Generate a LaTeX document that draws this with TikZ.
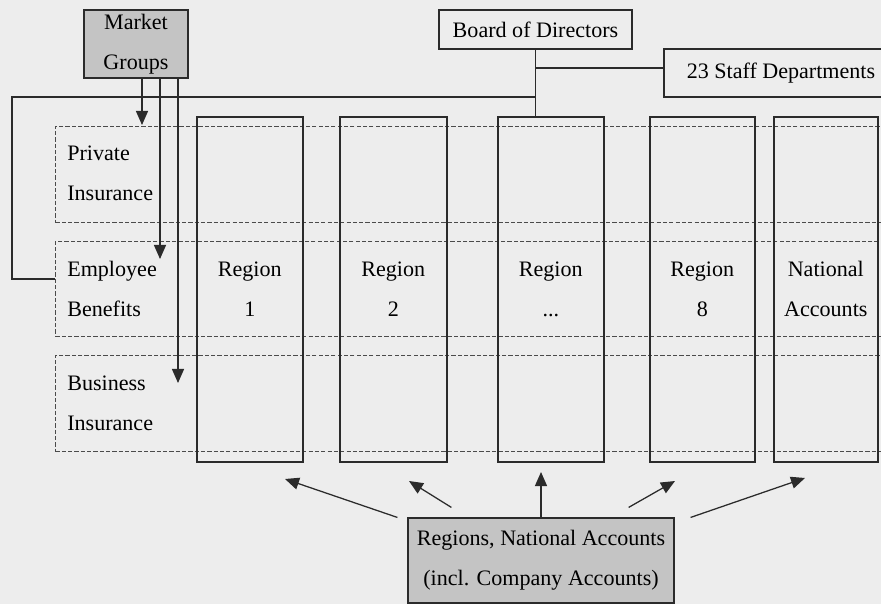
\documentclass[tikz,border=0pt]{standalone}
\usepackage{fontspec}
\setmainfont{Liberation Serif}
\usetikzlibrary{positioning, arrows.meta, calc}
\definecolor{paper}{HTML}{EDEDED}
\definecolor{ink}{HTML}{2B2B2B}
\definecolor{shade}{HTML}{C4C4C4}

\begin{document}
\begin{tikzpicture}[x=0.025cm, y=-0.025cm, font=\fontsize{15.7}{28.5}\selectfont,
  box/.style={rectangle, draw=ink, line width=0.8pt, inner sep=0pt, align=center},
  grey/.style={box, fill=shade},
  rowbox/.style={rectangle, draw=ink!85, line width=0.6pt, dash pattern=on 3pt off 1.5pt,
                 inner sep=0pt, minimum width=20.725cm, anchor=north west},
  col/.style={rectangle, draw=ink, line width=1.1pt, inner sep=0pt, minimum height=8.625cm,
              anchor=north west, align=center},
  lbl/.style={anchor=west, align=left, inner sep=0pt},
  link/.style={draw=ink, line width=0.9pt},
  push/.style={link, -{Triangle[length=3.5mm, width=3mm]}}]
  \fill[paper] (0,0) rectangle (881,604);
  \useasboundingbox (0,0) rectangle (881,604);

  \node[rowbox, minimum height=2.4cm] (priv) at (55,126) {};
  \node[rowbox, minimum height=2.375cm] (emp) at (55,241) {};
  \node[rowbox, minimum height=2.4cm] (bus) at (55,355) {};

  \node[lbl] (tpriv) at (67,173.5) {Private\\Insurance};
  \node[lbl] (temp) at (67,288.5) {Employee\\Benefits};
  \node[lbl] (tbus) at (67,403.5) {Business\\Insurance};

  \node[col, minimum width=2.65cm] (reg1) at (196,116) {Region\\1};
  \node[col, minimum width=2.675cm] (reg2) at (339,116) {Region\\2};
  \node[col, minimum width=2.65cm] (reg3) at (497,116) {Region\\...};
  \node[col, minimum width=2.625cm] (reg8) at (649,116) {Region\\8};
  \node[col, minimum width=2.6cm] (natl) at (773,116) {National\\Accounts};

  \node[grey, minimum width=2.6cm, minimum height=1.7cm] (mkt) at (136,44) {Market\\Groups};
  \node[box, minimum width=4.825cm, minimum height=0.975cm] (board) at (535.5,29.5) {Board of Directors};
  \node[box, minimum width=5.85cm, minimum height=1.2cm] (staff) at (781,73) {23 Staff Departments};
  \node[grey, minimum width=6.65cm, minimum height=2.125cm] (acc) at (541,560.5) {Regions, National Accounts\\(incl. Company Accounts)};

  \coordinate (hpriv) at (142,125);
  \coordinate (hemp) at (160,259);
  \coordinate (hbus) at (178,383);
  \draw[push] (mkt.south -| hpriv) -- (hpriv);
  \draw[push] (mkt.south -| hemp) -- (hemp);
  \draw[push] (mkt.south -| hbus) -- (hbus);

  \coordinate (bend) at (12,97);
  \coordinate (empin) at (55,279);
  \draw[link] (board.south) -- (board.south |- reg3.north);
  \draw[link] (board.south |- 0,68) -- (staff.west |- 0,68);
  \draw[link] (board.south |- bend) -- (bend) |- (empin);

  \coordinate (t1) at (285,479);
  \coordinate (t2) at (409,481);
  \coordinate (t3) at (541,472);
  \coordinate (t4) at (675,481);
  \coordinate (t5) at (805,478);
  \draw[push] ([xshift=-0.25cm]acc.north west) -- (t1);
  \draw[push] ($(acc.north west)+(44,-10)$) -- (t2);
  \draw[push] (acc.north) -- (t3);
  \draw[push] ($(acc.north east)+(-46,-10)$) -- (t4);
  \draw[push] ($(acc.north east)+(16,0)$) -- (t5);
\end{tikzpicture}
\end{document}
